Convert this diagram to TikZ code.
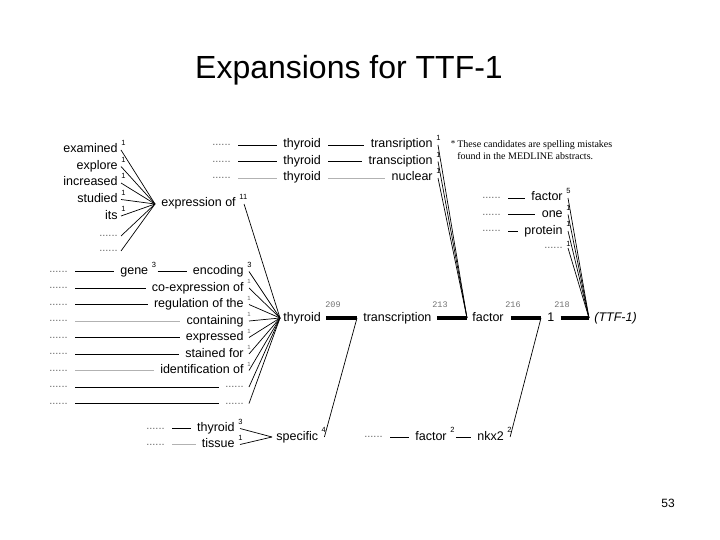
\documentclass[tikz,border=0pt]{standalone}
\usepackage{fontspec}
\setmainfont{Liberation Sans}
\newfontfamily\notefont{Liberation Serif}
\newfontfamily\numfont{Liberation Mono}

\begin{document}
\begin{tikzpicture}[x=1pt, y=-1pt, line width=0.7pt,
	every node/.style={inner sep=0pt},
	wd/.style={font=\fontsize{12.5}{14}\selectfont, text height=9pt, text depth=3pt, inner xsep=3pt},
	dots/.style={font=\fontsize{11}{11}\selectfont, text=black!60, text height=1.5pt, text depth=0pt, inner xsep=3pt},
	cnt/.style={font=\fontsize{7.5}{8}\selectfont, anchor=south west, yshift=-2.5pt},
	num/.style={font=\numfont\fontsize{8.5}{9}\selectfont, text=black!55},
	row/.style={shorten <=4pt, shorten >=3pt},
	main/.style={line width=3.5pt}]
	\useasboundingbox (0,0) rectangle (720,540);
	\node[font=\fontsize{32}{36}\selectfont] (title) at (349,70) {Expansions for TTF-1};
	\node[font=\fontsize{12}{14}\selectfont] (page) at (668,503) {53};
	\coordinate (jexp) at (155,204);
	\coordinate (jthy) at (280,318);
	\coordinate (jtrn) at (357,318);
	\coordinate (jfac) at (467,318);
	\coordinate (jone) at (541,318);
	\coordinate (jttf) at (589,318);
	\coordinate (jspc) at (272,437);
	\node[wd, anchor=west] (thy) at (280,318) {thyroid};
	\node[wd, anchor=west] (trn) at (360,318) {transcription};
	\node[wd, anchor=west] (fac) at (469,318) {factor};
	\node[wd, anchor=west] (one) at (544,318) {1};
	\node[wd, anchor=west, font=\fontsize{12.5}{14}\selectfont\itshape] (ttf) at (591,318) {(TTF-1)};
	\draw[main] ([xshift=2pt]thy.east) -- (jtrn);
	\draw[main] ([xshift=2pt]trn.east) -- (jfac);
	\draw[main] ([xshift=4pt]fac.east) -- (jone);
	\draw[main] ([xshift=3pt]one.east) -- (jttf);
	\node[num] (n209) at (333,305) {209};
	\node[num] (n213) at (440,305) {213};
	\node[num] (n216) at (513,305) {216};
	\node[num] (n218) at (562,305) {218};
	\foreach \w [count=\i] in {examined, explore, increased, studied, its} {
		\node[wd, anchor=east] (l\i) at (121, 133.5+16.5*\i) {\w};
		\node[cnt] (lc\i) at (l\i.north east) {1};
		\draw (l\i.east) -- (jexp);
	}
	\node[dots, anchor=east] (ld1) at (121,236) {......};
	\node[dots, anchor=east] (ld2) at (121,251) {......};
	\draw (ld1.east) -- (jexp);
	\draw (ld2.east) -- (jexp);
	\node[wd, anchor=west] (expr) at (158,204) {expression of};
	\node[cnt] (exprc) at (expr.north east) {11};
	\draw ([xshift=5pt]expr.east) -- (jthy);
	\foreach \w/\c [count=\i] in {transription/black, transciption/black, nuclear/black!30} {
		\node[dots, anchor=east] (td\i) at (234, 128.5+16.5*\i) {......};
		\node[wd, anchor=west] (tt\i) at (280, 128.5+16.5*\i) {thyroid};
		\node[wd, anchor=east] (tw\i) at (436, 128.5+16.5*\i) {\w};
		\node[cnt] (tc\i) at (tw\i.north east) {1};
		\draw[row, draw=\c] (td\i) -- (tt\i);
		\draw[row, draw=\c] (tt\i) -- (tw\i);
		\draw ([xshift=2pt]tw\i.east) -- (jfac);
	}
	\node[font=\notefont\fontsize{9}{9}\selectfont] (star) at (453,144) {*};
	\node[font=\notefont\fontsize{10}{12.5}\selectfont, anchor=north west, align=left] (note) at (457,140) {These candidates are spelling mistakes\\found in the MEDLINE abstracts.};
	\foreach \w/\n/\y in {factor/5/198, one/1/214.5, protein/1/231} {
		\node[dots, anchor=east] (rd\w) at (504,\y) {......};
		\node[wd, anchor=east] (r\w) at (566,\y) {\w};
		\node[cnt] (rc\w) at (r\w.north east) {\n};
		\draw[row] (rd\w) -- (r\w);
		\draw ([xshift=2pt]r\w.east) -- (jttf);
	}
	\node[dots, anchor=east] (rd4) at (566,248) {......};
	\node[cnt] (rc4) at (566,244) {1};
	\draw ([xshift=2pt]rd4.east) -- (jttf);
	\node[dots, anchor=east] (bd1) at (71,271.5) {......};
	\node[wd, anchor=west] (gene) at (117,271.5) {gene};
	\node[cnt] (genec) at (gene.north east) {3};
	\node[wd, anchor=east] (enc) at (247,271.5) {encoding};
	\node[cnt] (encc) at (enc.north east) {3};
	\draw[row] (bd1) -- (gene);
	\draw[row, shorten <=6pt] (gene) -- (enc);
	\draw ([xshift=2pt]enc.east) -- (jthy);
	\foreach \w/\c [count=\i from 2] in {co-expression of/black, regulation of the/black, containing/black!30, expressed/black, stained for/black, identification of/black!30} {
		\node[dots, anchor=east] (bd\i) at (71, 255+16.5*\i) {......};
		\node[wd, anchor=east] (bw\i) at (247, 255+16.5*\i) {\w};
		\node[cnt, font=\fontsize{6}{6}\selectfont, text=black!60] (bc\i) at (bw\i.north east) {1};
		\draw[row, draw=\c] (bd\i) -- (bw\i);
		\draw ([xshift=2pt]bw\i.east) -- (jthy);
	}
	\foreach \i in {8,9} {
		\node[dots, anchor=east] (bd\i) at (71, 255+16.5*\i) {......};
		\node[dots, anchor=east] (be\i) at (247, 255+16.5*\i) {......};
		\draw[row] (bd\i) -- (be\i);
		\draw ([xshift=2pt]be\i.east) -- (jthy);
	}
	\node[wd, anchor=west] (spc) at (273,437) {specific};
	\node[cnt] (spcc) at (spc.north east) {4};
	\draw ([xshift=3pt]spc.east) -- (jtrn);
	\foreach \w/\n/\c/\y [count=\i] in {thyroid/3/black/428.5, tissue/1/black!30/444.5} {
		\node[dots, anchor=east] (sd\i) at (168,\y) {......};
		\node[wd, anchor=east] (sw\i) at (238,\y) {\w};
		\node[cnt] (sc\i) at (sw\i.north east) {\n};
		\draw[row, draw=\c] (sd\i) -- (sw\i);
		\draw ([xshift=2pt]sw\i.east) -- (jspc);
	}
	\node[dots, anchor=east] (nd) at (386,437) {......};
	\node[wd, anchor=west] (nfac) at (412,437) {factor};
	\node[cnt] (nfacc) at (nfac.north east) {2};
	\node[wd, anchor=west] (nkx) at (474,437) {nkx2};
	\node[cnt] (nkxc) at (nkx.north east) {2};
	\draw[row] (nd) -- (nfac);
	\draw[row, shorten <=6pt] (nfac) -- (nkx);
	\draw ([xshift=3pt]nkx.east) -- (jone);
\end{tikzpicture}
\end{document}
